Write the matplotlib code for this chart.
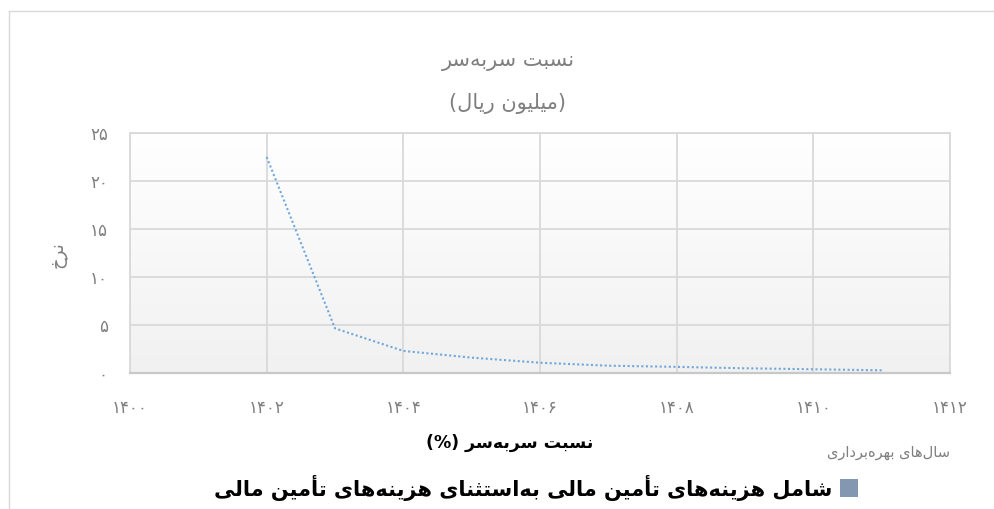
import numpy as np
import matplotlib
matplotlib.use("Agg")
import matplotlib.pyplot as plt
from matplotlib.colors import LinearSegmentedColormap
from matplotlib.lines import Line2D
from matplotlib.patches import Rectangle

# data
years = [1402, 1403, 1404, 1405, 1406, 1407, 1408, 1409, 1410, 1411]
ratio = [22.5, 4.65, 2.3, 1.6, 1.07, 0.76, 0.64, 0.49, 0.39, 0.28]
x_ticks = [1400, 1402, 1404, 1406, 1408, 1410, 1412]
y_ticks = [0, 5, 10, 15, 20, 25]

title_1 = "نسبت سربه\u200cسر"
title_2 = "(میلیون ریال)"
y_label = "نرخ"
x_label = "نسبت سربه\u200cسر (%)"
x_note = "سال\u200cهای بهره\u200cبرداری"
legend_label = "شامل هزینه\u200cهای تأمین مالی به\u200cاستثنای هزینه\u200cهای تأمین مالی"

# matplotlib has no arabic shaping, so pick presentation forms by hand
# (isolated, final, initial, medial); None = letter does not join forward
FORMS = {
    'ا': ('\uFE8D', '\uFE8E', None, None),
    'أ': ('\uFE83', '\uFE84', None, None),
    'ب': ('\uFE8F', '\uFE90', '\uFE91', '\uFE92'),
    'ت': ('\uFE95', '\uFE96', '\uFE97', '\uFE98'),
    'ث': ('\uFE99', '\uFE9A', '\uFE9B', '\uFE9C'),
    'خ': ('\uFEA5', '\uFEA6', '\uFEA7', '\uFEA8'),
    'د': ('\uFEA9', '\uFEAA', None, None),
    'ر': ('\uFEAD', '\uFEAE', None, None),
    'ز': ('\uFEAF', '\uFEB0', None, None),
    'س': ('\uFEB1', '\uFEB2', '\uFEB3', '\uFEB4'),
    'ش': ('\uFEB5', '\uFEB6', '\uFEB7', '\uFEB8'),
    'ل': ('\uFEDD', '\uFEDE', '\uFEDF', '\uFEE0'),
    'م': ('\uFEE1', '\uFEE2', '\uFEE3', '\uFEE4'),
    'ن': ('\uFEE5', '\uFEE6', '\uFEE7', '\uFEE8'),
    'ه': ('\uFEE9', '\uFEEA', '\uFEEB', '\uFEEC'),
    'و': ('\uFEED', '\uFEEE', None, None),
    'ی': ('\uFEEF', '\uFEF0', '\uFEF3', '\uFEF4'),
}


def rtl(text):
    out = []
    for i, c in enumerate(text):
        if c not in FORMS:
            out.append(c)
            continue
        prev = text[i - 1] if i > 0 else None
        nxt = text[i + 1] if i + 1 < len(text) else None
        join_prev = prev in FORMS and FORMS[prev][2] is not None
        join_next = nxt in FORMS and FORMS[c][2] is not None
        iso, fin, ini, med = FORMS[c]
        if join_prev and join_next:
            out.append(med)
        elif join_prev:
            out.append(fin)
        elif join_next:
            out.append(ini)
        else:
            out.append(iso)
    s = ''.join(out).replace('\u200c', '')
    return s[::-1].translate(str.maketrans('()', ')('))


def fa_num(v):
    return str(v).translate(str.maketrans('0123456789', '۰۱۲۳۴۵۶۷۸۹'))


plt.rcParams['font.family'] = ['DejaVu Sans']

W, H = 995, 509
fig = plt.figure(figsize=(W / 100, H / 100), dpi=100)
fig.patch.set_facecolor('white')

# outer chart border (top and left only visible)
fig.add_artist(Line2D([9 / W, 1], [1 - 11 / H, 1 - 11 / H], color='#d9d9d9', lw=1))
fig.add_artist(Line2D([9 / W, 9 / W], [0, 1 - 11 / H], color='#d9d9d9', lw=1))

ax = fig.add_axes([130 / W, 1 - 373 / H, 820 / W, 240 / H])
ax.set_xlim(1400, 1412)
ax.set_ylim(0, 25)

grad_cmap = LinearSegmentedColormap.from_list('bg', ['#ffffff', '#f1f1f1'])
ax.imshow(np.linspace(1, 0, 256).reshape(-1, 1), extent=[1400, 1412, 0, 25],
          aspect='auto', cmap=grad_cmap, origin='lower', zorder=0)

ax.plot(years, ratio, linestyle=(0, (1, 1.2)), color='#6fa8dc', lw=1.5, zorder=3)

ax.set_xticks(x_ticks)
ax.set_yticks(y_ticks)
ax.set_xticklabels([fa_num(v) for v in x_ticks])
ax.set_yticklabels([fa_num(v) for v in y_ticks])
ax.tick_params(axis='x', length=0, pad=19, labelsize=12, labelcolor='#7f7f7f')
ax.tick_params(axis='y', length=0, pad=16, labelsize=12, labelcolor='#7f7f7f')
ax.set_axisbelow(True)
ax.grid(True, color='#d9d9d9', lw=1.3)
for side in ['left', 'right', 'top']:
    ax.spines[side].set_color('#d9d9d9')
    ax.spines[side].set_linewidth(1.3)
ax.spines['bottom'].set_color('#c8c8c8')
ax.spines['bottom'].set_linewidth(1.6)

fig.text(508 / W, 1 - 61 / H, rtl(title_1), ha='center', va='center',
         fontsize=15, color='#7f7f7f')
fig.text(508 / W, 1 - 104 / H, rtl(title_2), ha='center', va='center',
         fontsize=15, color='#7f7f7f')
fig.text(58 / W, 1 - 255 / H, rtl(y_label), ha='center', va='center',
         rotation=90, fontsize=13, color='#7f7f7f')
fig.text(510 / W, 1 - 443 / H, rtl(x_label), ha='center', va='center',
         fontsize=12.5, fontweight='bold', color='black')
fig.text(950 / W, 1 - 452 / H, rtl(x_note), ha='right', va='center',
         fontsize=10.5, color='#7f7f7f')

# legend: bold label with a square swatch on its right
fig.add_artist(Rectangle((840 / W, 1 - 497 / H), 18 / W, 18 / H,
                         facecolor='#8497b0', edgecolor='none'))
fig.text(832 / W, 1 - 488 / H, rtl(legend_label), ha='right', va='center',
         fontsize=15, fontweight='bold', color='black')

fig.savefig('out.png', dpi=100)
